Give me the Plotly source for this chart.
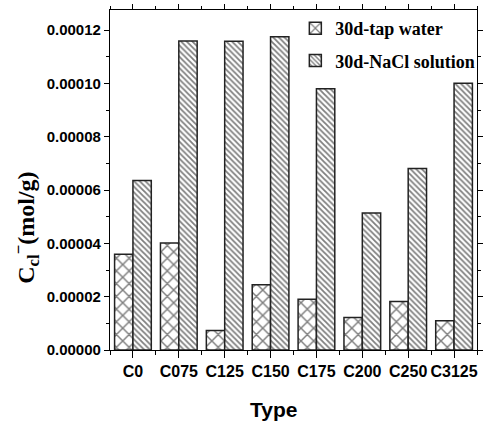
import plotly.graph_objects as go

# Chloride content after 30 days of immersion
categories = ["C0", "C075", "C125", "C150", "C175", "C200", "C250", "C3125"]
tap_water = [0.0000359, 0.0000401, 0.0000073, 0.0000245, 0.0000190, 0.0000122, 0.0000182, 0.0000110]
nacl_solution = [0.0000636, 0.0001159, 0.0001158, 0.0001175, 0.0000980, 0.0000514, 0.0000681, 0.0001000]
y_ticks = [0, 0.00002, 0.00004, 0.00006, 0.00008, 0.00010, 0.00012]
y_ticklabels = ["0.00000", "0.00002", "0.00004", "0.00006", "0.00008", "0.00010", "0.00012"]

positions = list(range(len(categories)))

sans = dict(family="Liberation Sans, Arial, sans-serif", color="black", weight="bold")
serif = dict(family="Liberation Serif, Times New Roman, serif", color="black", weight="bold")

fig = go.Figure()
fig.add_trace(go.Bar(
    x=positions, y=tap_water, name="30d-tap water", legendgroup="tap",
    marker=dict(color="white", line=dict(color="#222", width=1.5),
                pattern=dict(shape="x", size=9, solidity=0.3, fgcolor="black", bgcolor="white")),
))
fig.add_trace(go.Bar(
    x=positions, y=nacl_solution, name="30d-NaCl solution", legendgroup="nacl",
    marker=dict(color="white", line=dict(color="#222", width=1.5),
                pattern=dict(shape="\\", size=4, solidity=0.45, fgcolor="black", bgcolor="white")),
))

x_range = [-0.5, 7.5]
y_range = [0, 0.0001275]
x_minor = dict(dtick=0.5, tick0=0.5, ticks="outside", ticklen=4, tickcolor="black")
y_minor = dict(dtick=0.00001, tick0=0, ticks="outside", ticklen=3, tickcolor="black")

fig.update_layout(
    width=487, height=423,
    margin=dict(l=110, r=5, t=8, b=73),
    paper_bgcolor="white", plot_bgcolor="white",
    barmode="group", bargap=0.2, bargroupgap=0,
    showlegend=True,
    legend=dict(x=0.505, y=1.0, xanchor="left", yanchor="top",
                font=dict(size=18, **serif), bgcolor="rgba(0,0,0,0)",
                tracegroupgap=6, traceorder="grouped"),
    xaxis=dict(
        range=x_range, tickvals=positions, ticktext=categories,
        ticks="outside", ticklen=7, tickwidth=1, tickcolor="black",
        minor=x_minor,
        showline=True, linecolor="black", linewidth=1.2,
        showgrid=False, zeroline=False,
        tickfont=dict(size=16, **sans),
    ),
    yaxis=dict(
        range=y_range, tickvals=y_ticks, ticktext=y_ticklabels,
        ticks="outside", ticklen=5, tickwidth=1, tickcolor="black",
        minor=y_minor,
        showline=True, linecolor="black", linewidth=1.2,
        showgrid=False, zeroline=False,
        tickfont=dict(size=15, **sans),
    ),
    # frame axes on the top and right carrying the same ticks
    xaxis2=dict(
        overlaying="x", side="top", matches="x", range=x_range, tickvals=positions,
        showticklabels=False, ticks="outside", ticklen=5, tickcolor="black",
        minor=dict(x_minor, ticklen=3),
        showline=True, linecolor="black", linewidth=1.2,
        showgrid=False, zeroline=False,
    ),
    yaxis2=dict(
        overlaying="y", side="right", matches="y", range=y_range, tickvals=y_ticks,
        showticklabels=False, ticks="outside", ticklen=5, tickcolor="black",
        minor=y_minor,
        showline=True, linecolor="black", linewidth=1.2,
        showgrid=False, zeroline=False,
    ),
    annotations=[
        dict(text="C<sub>cl</sub><sup>−</sup>(mol/g)", xref="paper", yref="paper",
             x=-0.231, y=0.36, xanchor="center", yanchor="middle", textangle=-90,
             showarrow=False, font=dict(size=24, **serif)),
        dict(text="Type", xref="paper", yref="paper",
             x=0.446, y=-0.175, xanchor="center", yanchor="middle",
             showarrow=False, font=dict(size=21, **sans)),
    ],
)

# invisible trace so the frame axes are drawn
fig.add_trace(go.Scatter(x=[positions[0]], y=[0], xaxis="x2", yaxis="y2",
                         mode="markers", marker=dict(opacity=0),
                         showlegend=False, hoverinfo="skip"))

fig.write_html("out.html")
